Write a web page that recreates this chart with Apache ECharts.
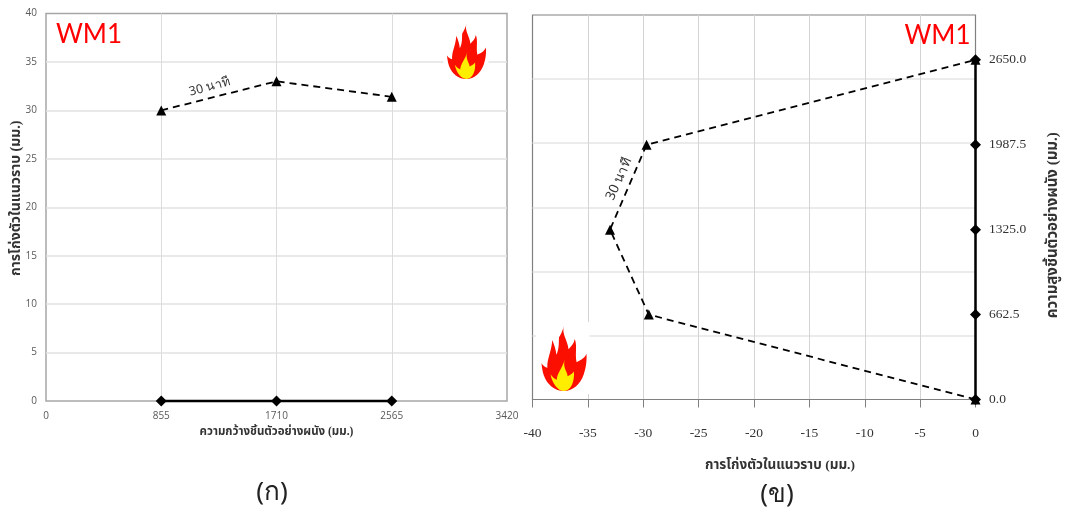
<!DOCTYPE html>
<html><head><meta charset="utf-8">
<style>html,body{margin:0;padding:0;background:#fff}#c{width:1065px;height:511px}</style>
<script src="https://cdn.jsdelivr.net/npm/echarts@6/dist/echarts.min.js"></script>
</head><body><div id="c"></div>
<script>
const wallWidth = [855, 1710, 2565];
const deflectionAcross = [30, 33, 31.4];
const baselineAcross = [0, 0, 0];
const wallHeight = [0, 662.5, 1325, 1987.5, 2650];
const deflectionUp = [0, -29.5, -33, -29.7, 0];
const baselineUp = [0, 0, 0, 0, 0];
const titleWM = 'WM1';
const timeLabel = '30 นาที';
const nameWidth = 'ความกว้างชิ้นตัวอย่างผนัง (มม.)';
const nameDeflect = 'การโก่งตัวในแนวราบ (มม.)';
const nameHeight = 'ความสูงชิ้นตัวอย่างผนัง (มม.)';
const panelA = '(ก)', panelB = '(ข)';
const flameOuter = 'M50 0C44 16 58 30 60 50C66 44 72 38 74 28C80 44 74 60 78 78C86 74 94 72 100 60C101 80 98 92 94 104C86 126 70 140 50 140C30 140 12 126 5 106C2 96 1 90 0 80C4 86 8 88 13 90C12 70 22 56 24 30C28 40 32 50 33 62C40 48 38 34 39 24C43 18 47 10 50 0Z';
const flameInner = 'M52 71C46 90 58 98 58 108C62 106 68 104 72 98C74 118 66 140 50 140C36 140 24 124 20 104C26 112 30 114 34 116C34 102 46 92 52 71Z';
echarts.graphic.registerShape('flameOuter', echarts.graphic.extendPath(flameOuter, {}));
echarts.graphic.registerShape('flameInner', echarts.graphic.extendPath(flameInner, {}));

const zip = (a, b) => a.map((v, i) => [v, b[i]]);
const sansTick = {fontFamily: 'Open Sans', fontSize: 10, color: '#595959'};
const serifTick = {fontFamily: 'Liberation Serif', fontSize: 13.5, color: '#333'};
const thaiBold = {fontFamily: '"Liberation Serif","Noto Sans Thai","Noto Sans",serif', fontWeight: 'bold', color: '#333'};

function flame(x, y, w, h, bx, by, bw, bh) {
  return [
    {type: 'rect', z: 20, shape: {x: bx, y: by, width: bw, height: bh}, style: {fill: '#fff'}},
    {type: 'flameOuter', z: 21, x, y, scaleX: w / 100, scaleY: h / 140, style: {fill: '#fb0f00'}},
    {type: 'flameInner', z: 22, x, y, scaleX: w / 100, scaleY: h / 140, style: {fill: '#ffee00'}}
  ];
}
function text(t, x, y, font, fill, size, rot, weight) {
  return {type: 'text', z: 30, x, y, rotation: (rot || 0) * Math.PI / 180,
    style: {text: t, fontFamily: font, fontSize: size, fill, fontWeight: weight || 'normal', align: 'center', verticalAlign: 'middle'}};
}

const chart = echarts.init(document.getElementById('c'), null, {renderer: 'canvas'});
chart.setOption({
  backgroundColor: '#fff',
  animation: false,
  grid: [
    {left: 46, top: 13.5, width: 461, height: 387.5, show: true, borderColor: '#a6a6a6', borderWidth: 1.5, backgroundColor: '#fff'},
    {left: 532.5, top: 15, width: 443, height: 384.5, show: true, borderColor: '#808080', borderWidth: 1.2, backgroundColor: '#fff'}
  ],
  xAxis: [
    {gridIndex: 0, type: 'value', min: 0, max: 3420, interval: 855,
     axisLine: {show: false}, axisTick: {show: false},
     splitLine: {showMinLine: false, showMaxLine: false, lineStyle: {color: '#dcdcdc', width: 1}},
     axisLabel: {...sansTick, margin: 10, formatter: v => String(v)},
     name: nameWidth, nameLocation: 'middle', nameGap: 25, nameMoveOverlap: false, nameTextStyle: {...thaiBold, fontSize: 11.5}},
    {gridIndex: 1, type: 'value', min: -40, max: 0, interval: 5,
     axisLine: {show: true, lineStyle: {color: '#808080', width: 1.2}},
     axisTick: {show: true, length: 8, lineStyle: {color: '#808080'}},
     splitLine: {showMinLine: false, showMaxLine: false, lineStyle: {color: '#d4d4d4', width: 1}},
     axisLabel: {...serifTick, margin: 27},
     name: nameDeflect, nameLocation: 'middle', nameGap: 59, nameMoveOverlap: false,
     nameTextStyle: {...thaiBold, fontSize: 13.5, padding: [0, 0, 0, 52]}},
  ],
  yAxis: [
    {gridIndex: 0, type: 'value', min: 0, max: 40, interval: 5,
     axisLine: {show: false}, axisTick: {show: false},
     splitLine: {showMinLine: false, showMaxLine: false, lineStyle: {color: '#e2e2e2', width: 1.5}},
     axisLabel: {...sansTick, margin: 9},
     name: nameDeflect, nameLocation: 'middle', nameGap: 23, nameMoveOverlap: false,
     nameTextStyle: {...thaiBold, fontSize: 14, padding: [0, 0, 0, 18]}},
    {gridIndex: 1, type: 'value', min: 0, max: 3000, interval: 500, position: 'right',
     axisLine: {show: false}, axisTick: {show: false}, axisLabel: {show: false},
     splitLine: {showMinLine: false, showMaxLine: false, lineStyle: {color: '#e4e4e4', width: 1.5}},
     name: nameHeight, nameLocation: 'middle', nameGap: 70, nameMoveOverlap: false,
     nameTextStyle: {...thaiBold, fontSize: 15, padding: [0, 36, 0, 0]}}
  ],
  series: [
    {type: 'line', xAxisIndex: 0, yAxisIndex: 0, data: zip(wallWidth, baselineAcross), clip: false, z: 5,
     symbol: 'diamond', symbolSize: 11, lineStyle: {color: '#000', width: 2.5}, itemStyle: {color: '#000'}},
    {type: 'line', xAxisIndex: 0, yAxisIndex: 0, data: zip(wallWidth, deflectionAcross), clip: false, z: 5,
     symbol: 'triangle', symbolSize: 10, lineStyle: {color: '#000', width: 1.8, type: [7, 5]}, itemStyle: {color: '#000'}},
    {type: 'line', xAxisIndex: 1, yAxisIndex: 1, data: zip(deflectionUp, wallHeight), clip: false, z: 5,
     symbol: 'triangle', symbolSize: 10, lineStyle: {color: '#000', width: 1.8, type: [7, 5]}, itemStyle: {color: '#000'}},
    {type: 'line', xAxisIndex: 1, yAxisIndex: 1, data: zip(baselineUp, wallHeight), clip: false, z: 6,
     symbol: 'diamond', symbolSize: 11, lineStyle: {color: '#000', width: 2.5}, itemStyle: {color: '#000'},
     label: {show: true, position: 'right', distance: 8, ...serifTick,
       formatter: p => p.value[1].toFixed(1)}}
  ],
  graphic: [
    ...flame(447, 24, 39, 55, 443.5, 20, 45, 62),
    ...flame(541.5, 326, 45, 65, 536, 322, 53.5, 72),
    text(titleWM, 89, 35, 'Lato', '#ff0000', 26),
    text(titleWM, 937.5, 36, 'Lato', '#ff0000', 26),
    text(timeLabel, 209.5, 87, '"Noto Sans","Open Sans",sans-serif', '#333', 12.5, 15),
    text(timeLabel, 619, 179, '"Noto Sans","Open Sans",sans-serif', '#333', 13.5, 66),
    text(panelA, 272, 493, '"Noto Sans","Open Sans",sans-serif', '#222', 26),
    text(panelB, 777, 495, '"Noto Sans","Open Sans",sans-serif', '#222', 26)
  ]
});
</script></body></html>
